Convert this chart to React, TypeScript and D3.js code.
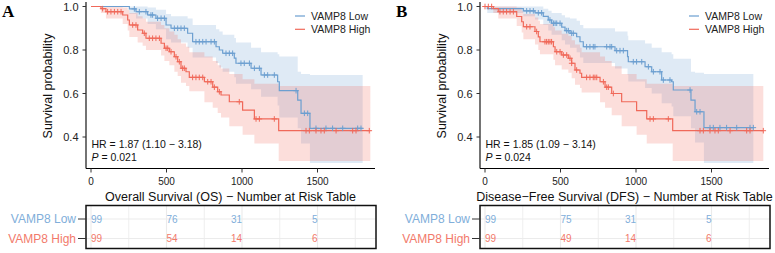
import React from "react";
import * as d3 from "d3";

type Step = [number, number, number, number]; // time, survival, lower CI, upper CI

const timeBreaks = [0, 500, 1000, 1500];
const gridBreaks = [0, 250, 500, 750, 1000, 1250, 1500, 1750];
const survTicks = [0.4, 0.6, 0.8, 1.0];
const groupNames = ["VAMP8 Low", "VAMP8 High"];
const groupColors = ["#6C9FD0", "#F0695A"];
const tableColors = ["#80AEDA", "#F27A6B"];

// ---------- Panel A: Overall Survival ----------
const osLowSteps: Step[] = [
  [0, 1, 1, 1], [254, 0.989, 0.965, 1], [298, 0.976, 0.945, 1], [375, 0.961, 0.92, 0.995],
  [430, 0.946, 0.895, 0.985], [497, 0.915, 0.85, 0.965], [530, 0.9, 0.835, 0.955],
  [640, 0.877, 0.81, 0.945], [673, 0.838, 0.765, 0.915], [828, 0.815, 0.74, 0.895],
  [850, 0.8, 0.72, 0.885], [872, 0.785, 0.7, 0.87], [949, 0.763, 0.675, 0.855],
  [960, 0.739, 0.645, 0.835], [1060, 0.716, 0.62, 0.81], [1126, 0.685, 0.585, 0.79],
  [1236, 0.654, 0.545, 0.78], [1247, 0.613, 0.49, 0.77], [1369, 0.57, 0.44, 0.7],
  [1391, 0.509, 0.37, 0.69], [1450, 0.44, 0.28, 0.685],
];
const osLowEnd = 1799;
const osLowCensor = [287, 320, 364, 397, 408, 441, 464, 486, 552, 574, 596, 618, 695, 717, 740, 762, 795, 817,
  894, 916, 938, 993, 1015, 1049, 1082, 1115, 1148, 1170, 1214, 1358, 1413, 1435, 1490, 1556, 1600, 1667, 1766, 1788];

const osHighSteps: Step[] = [
  [0, 1, 1, 1], [66, 0.99, 0.97, 1], [99, 0.976, 0.945, 1], [210, 0.961, 0.92, 0.995],
  [243, 0.938, 0.89, 0.985], [254, 0.915, 0.86, 0.97], [309, 0.892, 0.835, 0.955],
  [342, 0.877, 0.82, 0.945], [364, 0.854, 0.8, 0.93], [464, 0.831, 0.775, 0.915],
  [486, 0.808, 0.75, 0.9], [519, 0.792, 0.73, 0.885], [552, 0.769, 0.7, 0.87],
  [574, 0.746, 0.68, 0.85], [596, 0.716, 0.65, 0.83], [629, 0.7, 0.635, 0.815],
  [651, 0.674, 0.61, 0.79], [751, 0.654, 0.56, 0.77], [806, 0.629, 0.535, 0.75],
  [839, 0.608, 0.51, 0.73], [861, 0.593, 0.49, 0.715], [916, 0.562, 0.45, 0.69],
  [1004, 0.524, 0.41, 0.665], [1082, 0.483, 0.37, 0.645], [1243, 0.429, 0.29, 0.635],
];
const osHighEnd = 1850;
const osHighCensor = [77, 110, 132, 155, 177, 199, 276, 298, 353, 386, 408, 430, 453, 497, 508, 530, 563, 585,
  607, 618, 673, 695, 717, 740, 773, 795, 817, 850, 982, 1093, 1115, 1214, 1424, 1446, 1490, 1523, 1545,
  1623, 1733, 1755, 1843];

const osRiskLow = [99, 76, 31, 5];
const osRiskHigh = [99, 54, 14, 6];

// ---------- Panel B: Disease-Free Survival ----------
const dfsLowSteps: Step[] = [
  [0, 1, 1, 1], [15, 0.99, 0.97, 1], [254, 0.98, 0.955, 1], [331, 0.971, 0.94, 1],
  [386, 0.955, 0.915, 0.99], [419, 0.938, 0.89, 0.98], [441, 0.923, 0.87, 0.97],
  [508, 0.905, 0.845, 0.96], [530, 0.889, 0.825, 0.95], [563, 0.877, 0.81, 0.945],
  [607, 0.861, 0.79, 0.935], [629, 0.838, 0.765, 0.915], [651, 0.815, 0.74, 0.9],
  [861, 0.797, 0.715, 0.885], [944, 0.77, 0.685, 0.865], [949, 0.746, 0.655, 0.845],
  [1060, 0.723, 0.625, 0.83], [1104, 0.7, 0.6, 0.81], [1170, 0.662, 0.555, 0.79],
  [1236, 0.654, 0.54, 0.78], [1247, 0.616, 0.495, 0.76], [1364, 0.57, 0.44, 0.7],
  [1391, 0.516, 0.375, 0.695], [1450, 0.443, 0.28, 0.69],
];
const dfsLowEnd = 1777;
const dfsLowCensor = [276, 298, 320, 353, 375, 430, 453, 464, 475, 497, 541, 552, 574, 585, 673, 695, 717, 728,
  806, 828, 839, 872, 894, 916, 982, 1004, 1038, 1082, 1115, 1159, 1181, 1225, 1358, 1402, 1424, 1490, 1512,
  1556, 1600, 1667, 1755, 1777];

const dfsHighSteps: Step[] = [
  [0, 1, 1, 1], [55, 0.99, 0.97, 1], [88, 0.976, 0.945, 1], [210, 0.954, 0.91, 0.995],
  [243, 0.93, 0.88, 0.98], [254, 0.907, 0.85, 0.965], [331, 0.885, 0.825, 0.95],
  [353, 0.86, 0.8, 0.935], [364, 0.838, 0.78, 0.92], [453, 0.815, 0.755, 0.905],
  [464, 0.792, 0.73, 0.89], [508, 0.777, 0.71, 0.875], [552, 0.762, 0.695, 0.865],
  [574, 0.739, 0.67, 0.845], [596, 0.708, 0.64, 0.825], [629, 0.693, 0.625, 0.81],
  [640, 0.674, 0.605, 0.79], [762, 0.654, 0.56, 0.77], [795, 0.629, 0.535, 0.75],
  [839, 0.6, 0.5, 0.725], [905, 0.562, 0.45, 0.69], [1004, 0.521, 0.41, 0.665],
  [1071, 0.483, 0.37, 0.645], [1243, 0.429, 0.29, 0.635],
];
const dfsHighEnd = 1843;
const dfsHighCensor = [0, 22, 44, 99, 121, 143, 166, 188, 276, 298, 342, 397, 408, 419, 430, 441, 475, 497, 519,
  541, 563, 574, 607, 673, 695, 717, 728, 740, 784, 806, 817, 850, 1093, 1115, 1214, 1424, 1446, 1490, 1523,
  1545, 1623, 1733, 1755, 1843];

const dfsRiskLow = [99, 75, 31, 5];
const dfsRiskHigh = [99, 49, 14, 6];

const riskAnchor = ["start", "start", "end", "end"];

const FONT = "'Liberation Sans', Arial, sans-serif";

interface Curve { steps: Step[]; end: number; censor: number[]; }

interface PanelProps {
  dx: number;
  letter: string;
  curves: Curve[];
  hr: string;
  p: string;
  title: string;
  risk: number[][];
}

const x = d3.scaleLinear().domain([0, 1500]).range([91, 317.5]);
const y = d3.scaleLinear().domain([0.4, 1.0]).range([137, 6.5]);
const rowY = d3.scalePoint<string>().domain(groupNames).range([219, 238.5]);

const PLOT_L = 86, PLOT_R = 375, PLOT_B = 168.5, PLOT_T = 2;
const TAB_T = 205.5, TAB_B = 248.5;

function withEnd(c: Curve): Step[] {
  const last = c.steps[c.steps.length - 1];
  return [...c.steps, [c.end, last[1], last[2], last[3]]];
}

function survAt(steps: Step[], t: number): number {
  let s = 1;
  for (const st of steps) if (st[0] <= t) s = st[1];
  return s;
}

const Panel: React.FC<PanelProps> = ({ dx, letter, curves, hr, p, title, risk }) => {
  const line = d3.line<Step>().x(d => x(d[0])).y(d => y(d[1])).curve(d3.curveStepAfter);
  const area = d3.area<Step>().x(d => x(d[0])).y0(d => y(d[2])).y1(d => y(d[3])).curve(d3.curveStepAfter);
  return (
    <g transform={`translate(${dx},0)`}>
      <text x={2} y={17} fontFamily="'Liberation Serif', 'Times New Roman', serif" fontWeight="bold" fontSize={17}>{letter}</text>
      {/* CI bands */}
      {curves.map((c, i) => (
        <path key={"b" + i} d={area(withEnd(c)) || ""} fill={groupColors[i]} fillOpacity={0.22} stroke="none" />
      ))}
      {/* survival curves */}
      {curves.map((c, i) => (
        <path key={"l" + i} d={line(withEnd(c)) || ""} fill="none" stroke={groupColors[i]} strokeWidth={1.2} />
      ))}
      {/* censor marks */}
      {curves.map((c, i) => (
        <g key={"c" + i} stroke={groupColors[i]} strokeWidth={1}>
          {c.censor.map((t, j) => {
            const cx = x(t), cy = y(survAt(c.steps, t));
            return (
              <g key={j}>
                <line x1={cx} x2={cx} y1={cy - 2.8} y2={cy + 2.8} />
                <line x1={cx - 2.8} x2={cx + 2.8} y1={cy} y2={cy} />
              </g>
            );
          })}
        </g>
      ))}
      {/* axes */}
      <line x1={PLOT_L} x2={PLOT_L} y1={PLOT_T} y2={PLOT_B} stroke="#000" strokeWidth={1.1} />
      <line x1={PLOT_L} x2={PLOT_R} y1={PLOT_B} y2={PLOT_B} stroke="#000" strokeWidth={1.1} />
      {survTicks.map(v => (
        <g key={v}>
          <line x1={PLOT_L - 3.5} x2={PLOT_L} y1={y(v)} y2={y(v)} stroke="#333" strokeWidth={1} />
          <text x={PLOT_L - 7.5} y={y(v)} textAnchor="end" dominantBaseline="central" fontFamily={FONT} fontSize={11} fill="#222">{v.toFixed(1)}</text>
        </g>
      ))}
      {timeBreaks.map(t => (
        <g key={t}>
          <line x1={x(t)} x2={x(t)} y1={PLOT_B} y2={PLOT_B + 4} stroke="#333" strokeWidth={1} />
          <text x={x(t)} y={185} textAnchor="middle" fontFamily={FONT} fontSize={10} fill="#222">{t}</text>
        </g>
      ))}
      <text transform={`translate(52,86) rotate(-90)`} textAnchor="middle" fontFamily={FONT} fontSize={12.5} fill="#111">Survival probability</text>
      <text x={(PLOT_L + PLOT_R) / 2} y={201} textAnchor="middle" fontFamily={FONT} fontSize={12.5} fill="#111">{title}</text>
      {/* legend */}
      {groupNames.map((g, i) => (
        <g key={g}>
          <line x1={295} x2={305} y1={16 + i * 13.3} y2={16 + i * 13.3} stroke={groupColors[i]} strokeWidth={1.2} />
          <text x={311} y={16 + i * 13.3} dominantBaseline="central" fontFamily={FONT} fontSize={10.5} fill="#222">{g}</text>
        </g>
      ))}
      {/* HR / P */}
      <text x={91.5} y={148} fontFamily={FONT} fontSize={10.5} fill="#111">{hr}</text>
      <text x={91.5} y={160.5} fontFamily={FONT} fontSize={10.5} fill="#111">
        <tspan fontStyle="italic">P</tspan>{" = " + p}
      </text>
      {/* risk table */}
      {gridBreaks.map(t => (
        <line key={t} x1={x(t)} x2={x(t)} y1={TAB_T} y2={TAB_B} stroke="#EBEBEB" strokeWidth={t % 500 === 0 ? 1.1 : 0.8} />
      ))}
      {groupNames.map(g => (
        <line key={g} x1={PLOT_L} x2={PLOT_R + 1} y1={rowY(g)} y2={rowY(g)} stroke="#EBEBEB" strokeWidth={1.1} />
      ))}
      <rect x={PLOT_L} y={TAB_T} width={PLOT_R + 1 - PLOT_L} height={TAB_B - TAB_T} fill="none" stroke="#111" strokeWidth={1.5} />
      {groupNames.map((g, i) => (
        <g key={g}>
          <line x1={PLOT_L - 8} x2={PLOT_L} y1={rowY(g)} y2={rowY(g)} stroke="#333" strokeWidth={1} />
          <text x={PLOT_L - 10} y={rowY(g)} textAnchor="end" dominantBaseline="central" fontFamily={FONT} fontSize={12} fill={tableColors[i]}>{g}</text>
          {risk[i].map((n, j) => (
            <text key={j} x={x(timeBreaks[j])} y={rowY(g)} textAnchor={riskAnchor[j] as any} dominantBaseline="central" fontFamily={FONT} fontSize={10} fill={tableColors[i]}>{n}</text>
          ))}
        </g>
      ))}
    </g>
  );
};

export default function App() {
  return (
    <svg width={775} height={253} style={{ position: "absolute", left: 0, top: 0, background: "#fff" }}>
      <Panel
        dx={0}
        letter="A"
        curves={[
          { steps: osLowSteps, end: osLowEnd, censor: osLowCensor },
          { steps: osHighSteps, end: osHighEnd, censor: osHighCensor },
        ]}
        hr="HR = 1.87 (1.10 − 3.18)"
        p="0.021"
        title="Overall Survival (OS) − Number at Risk Table"
        risk={[osRiskLow, osRiskHigh]}
      />
      <Panel
        dx={394}
        letter="B"
        curves={[
          { steps: dfsLowSteps, end: dfsLowEnd, censor: dfsLowCensor },
          { steps: dfsHighSteps, end: dfsHighEnd, censor: dfsHighCensor },
        ]}
        hr="HR = 1.85 (1.09 − 3.14)"
        p="0.024"
        title="Disease−Free Survival (DFS) − Number at Risk Table"
        risk={[dfsRiskLow, dfsRiskHigh]}
      />
    </svg>
  );
}
